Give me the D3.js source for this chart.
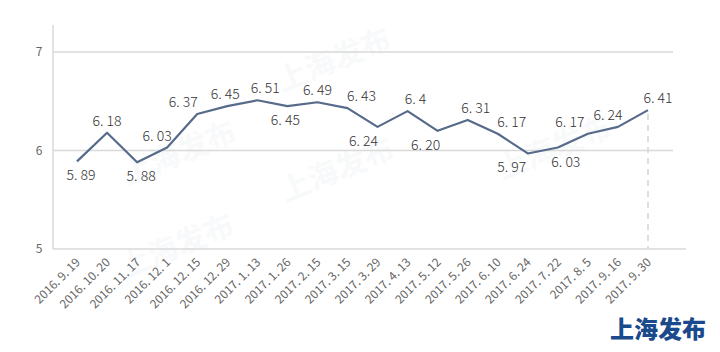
<!DOCTYPE html>
<html>
<head>
<meta charset="utf-8">
<script src="https://cdn.jsdelivr.net/npm/d3@7"></script>
<style>
  body { margin: 0; background: #fff; }
  svg { display: block; font-family: "Noto Sans CJK SC", "Noto Sans", sans-serif; }
</style>
</head>
<body>
<div id="chart"></div>
<script>
// dates (x categories)
const dates = ["2016.9.19", "2016.10.20", "2016.11.17", "2016.12.1", "2016.12.15", "2016.12.29",
    "2017.1.13", "2017.1.26", "2017.2.15", "2017.3.15", "2017.3.29", "2017.4.13", "2017.5.12",
    "2017.5.26", "2017.6.10", "2017.6.24", "2017.7.22", "2017.8.5", "2017.9.16", "2017.9.30"];
// values
const values = [5.89, 6.18, 5.88, 6.03, 6.37, 6.45, 6.51, 6.45, 6.49, 6.43, 6.24, 6.4, 6.20,
    6.31, 6.17, 5.97, 6.03, 6.17, 6.24, 6.41];
// value labels as printed
const valueLabels = ["5.89", "6.18", "5.88", "6.03", "6.37", "6.45", "6.51", "6.45", "6.49", "6.43",
    "6.24", "6.4", "6.20", "6.31", "6.17", "5.97", "6.03", "6.17", "6.24", "6.41"];
const yTicks = [5, 6, 7];

const width = 720, height = 352;
const plot = { left: 53, right: 686, gridRight: 673, top: 25, bottom: 249 };

const svg = d3.select("#chart")
    .append("svg")
    .attr("width", width)
    .attr("height", height);

// Scales
const xScale = d3.scalePoint().domain(dates).range([77, 648]);
const yScale = d3.scaleLinear().domain([5, 7]).range([plot.bottom, 52]);

// Watermarks
const marks = [[335, 62], [180, 155], [338, 172], [178, 248], [555, 150]];
svg.append("g").selectAll("text")
    .data(marks)
    .join("text")
    .attr("transform", d => `translate(${d[0]},${d[1]}) rotate(-22)`)
    .attr("text-anchor", "middle")
    .attr("dominant-baseline", "middle")
    .attr("font-size", 30)
    .attr("font-weight", 700)
    .attr("fill", "#8a9bb5")
    .attr("opacity", 0.05)
    .text("上海发布");

// Grid lines
svg.append("g").selectAll("line")
    .data(yTicks)
    .join("line")
    .attr("x1", plot.left)
    .attr("x2", d => d === 5 ? plot.right : plot.gridRight)
    .attr("y1", d => yScale(d))
    .attr("y2", d => yScale(d))
    .attr("stroke", "#d9d9d9")
    .attr("stroke-width", 1.5);

// Left axis line
svg.append("line")
    .attr("x1", plot.left).attr("x2", plot.left)
    .attr("y1", plot.top).attr("y2", plot.bottom)
    .attr("stroke", "#d9d9d9")
    .attr("stroke-width", 1.5);

// Y tick labels
svg.append("g").selectAll("text")
    .data(yTicks)
    .join("text")
    .attr("x", 39)
    .attr("y", d => yScale(d))
    .attr("dy", "0.35em")
    .attr("text-anchor", "middle")
    .attr("font-size", 12)
    .attr("fill", "#666")
    .text(d => d);

// Dashed marker at the last point
const last = dates.length - 1;
svg.append("line")
    .attr("x1", xScale(dates[last])).attr("x2", xScale(dates[last]))
    .attr("y1", yScale(values[last]) + 4).attr("y2", plot.bottom)
    .attr("stroke", "#d4d4d4")
    .attr("stroke-width", 1.5)
    .attr("stroke-dasharray", "6,5");

// Line
const line = d3.line()
    .x((d, i) => xScale(dates[i]))
    .y(d => yScale(d));

svg.append("path")
    .datum(values)
    .attr("d", line)
    .attr("fill", "none")
    .attr("stroke", "#566a8a")
    .attr("stroke-width", 2.2)
    .attr("stroke-linejoin", "round");

// Value labels: which go under the line, and small sideways nudges so they don't collide
const labelBelow = new Set([0, 2, 7, 10, 12, 15, 16]);
const labelShift = [4, 0, 4, -10, -14, -2, 8, -2, 0, 14, -14, 8, -12, 8, 14, -16, 8, -18, -10, 10];
svg.append("g").selectAll("text")
    .data(values)
    .join("text")
    .attr("x", (d, i) => xScale(dates[i]) + labelShift[i])
    .attr("y", (d, i) => yScale(d) + (labelBelow.has(i) ? 19 : -7))
    .attr("text-anchor", "middle")
    .attr("font-size", 14)
    .attr("font-weight", 300)
    .attr("fill", "#333")
    .text((d, i) => valueLabels[i].replace(".", ". "));

// X tick labels
svg.append("g").selectAll("text")
    .data(dates)
    .join("text")
    .attr("transform", d => `translate(${xScale(d) + 4},${plot.bottom + 14}) rotate(-45)`)
    .attr("text-anchor", "end")
    .attr("font-size", 12)
    .attr("fill", "#666")
    .text(d => d.split(".").join(". "));

// Logo
svg.append("text")
    .attr("x", 706)
    .attr("y", 338)
    .attr("text-anchor", "end")
    .attr("font-size", 24)
    .attr("font-weight", 900)
    .attr("fill", "#1b4a8c")
    .text("上海发布");
</script>
</body>
</html>
